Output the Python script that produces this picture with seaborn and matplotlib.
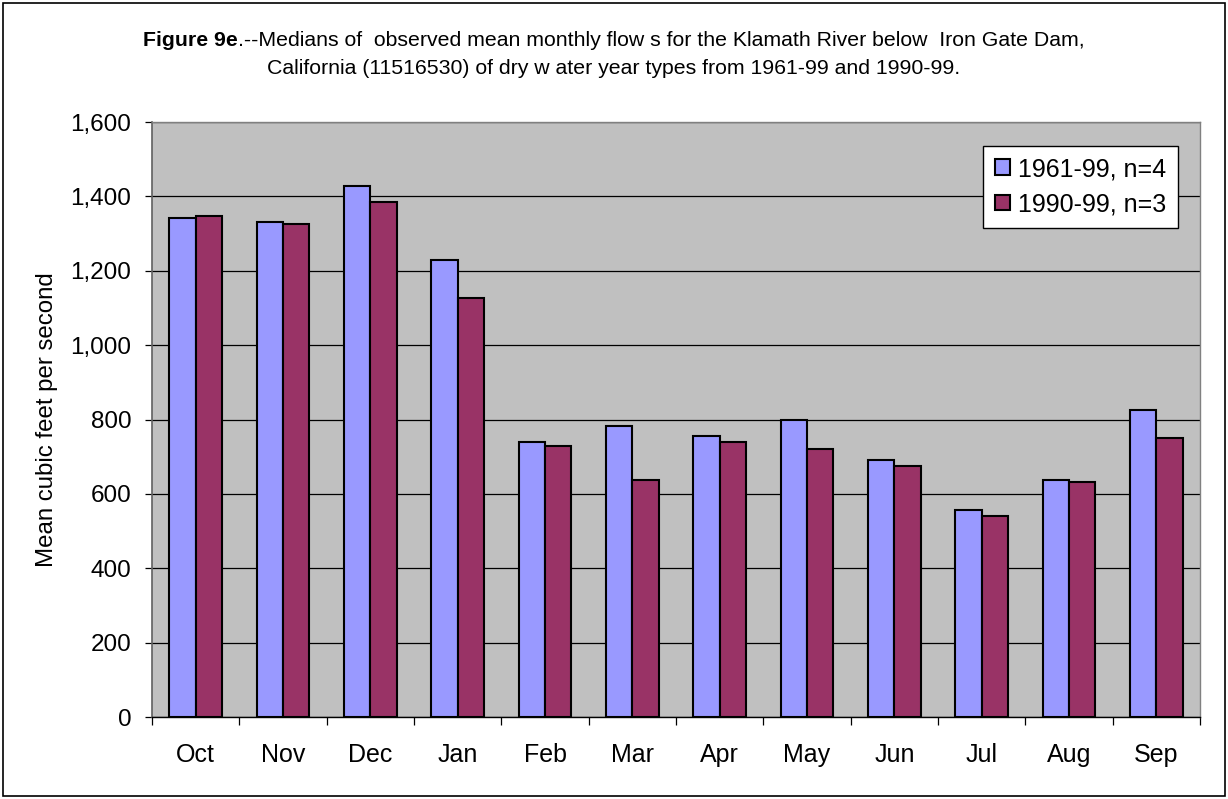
import matplotlib
matplotlib.use("Agg")
import matplotlib.pyplot as plt
import seaborn as sns
import pandas as pd
from matplotlib.patches import Rectangle
from matplotlib.ticker import FuncFormatter, FixedLocator

months = ["Oct", "Nov", "Dec", "Jan", "Feb", "Mar", "Apr", "May", "Jun", "Jul", "Aug", "Sep"]
series_names = ["1961-99, n=4", "1990-99, n=3"]
flows_1961_99 = [1341, 1331, 1429, 1229, 739, 782, 755, 798, 690, 557, 636, 825]
flows_1990_99 = [1346, 1326, 1385, 1127, 728, 636, 739, 722, 675, 540, 632, 749]
colors = ["#9999FF", "#993366"]

df = pd.DataFrame({
    "month": months * 2,
    "period": [series_names[0]] * len(months) + [series_names[1]] * len(months),
    "flow": flows_1961_99 + flows_1990_99,
})

sns.set_theme(style="white")
plt.rcParams["font.family"] = ["Liberation Sans", "DejaVu Sans"]
plt.rcParams["text.color"] = "black"

fig = plt.figure(figsize=(12.28, 7.99), dpi=100)
W, H = 1228, 799
ax = fig.add_axes([152 / W, 1 - 717 / H, (1200 - 152) / W, (717 - 122) / H])
ax.set_facecolor("#C0C0C0")

sns.barplot(data=df, x="month", y="flow", hue="period", order=months,
            hue_order=series_names, palette=colors, width=0.6, gap=0,
            edgecolor="black", linewidth=1.5, saturation=1, ax=ax)

ax.set_ylim(0, 1600)
ax.set_xlim(-0.5, len(months) - 0.5)
ax.set_yticks(range(0, 1601, 200))
ax.yaxis.set_major_formatter(FuncFormatter(lambda v, p: f"{int(v):,}"))
ax.grid(axis="y", color="black", linewidth=0.9)
ax.set_axisbelow(True)

# category boundary ticks below, labels centred on categories
ax.xaxis.set_major_locator(FixedLocator([i - 0.5 for i in range(len(months) + 1)]))
ax.xaxis.set_major_formatter(FuncFormatter(lambda v, p: ""))
ax.set_xticks(range(len(months)), labels=months, minor=True)
ax.tick_params(axis="x", which="major", direction="out", length=6, width=0.9, color="black", bottom=True)
ax.tick_params(axis="x", which="minor", length=0, pad=19, labelsize=18, labelcolor="black")
ax.tick_params(axis="y", direction="out", length=5, width=0.9, color="black", left=True,
               pad=10, labelsize=17.5, labelcolor="black")

ax.set_xlabel("")
ax.set_ylabel("Mean cubic feet per second", fontsize=17.3, color="black", labelpad=9)

for side in ["top", "right"]:
    ax.spines[side].set_color("#808080")
    ax.spines[side].set_linewidth(1.0)
ax.spines["left"].set_color("#606060")
ax.spines["left"].set_linewidth(1.2)
ax.spines["bottom"].set_color("black")
ax.spines["bottom"].set_linewidth(1.0)

handles, labels = ax.get_legend_handles_labels()
leg = ax.legend(handles, labels, loc="upper right", bbox_to_anchor=(0.979, 0.96),
                borderaxespad=0, frameon=True, fancybox=False, fontsize=18,
                handlelength=0.6, handleheight=0.6, handletextpad=0.35,
                labelspacing=0.45, borderpad=0.45, edgecolor="black", framealpha=1)
leg.get_frame().set_linewidth(1.0)
leg.get_frame().set_facecolor("white")
for t in leg.get_texts():
    t.set_color("black")

# Title: bold figure number followed by regular caption text, centred
bold_part = "Figure 9e"
rest_part = ".--Medians of  observed mean monthly flow s for the Klamath River below  Iron Gate Dam,"
line2 = "California (11516530) of dry w ater year types from 1961-99 and 1990-99."
tsize = 15.3
renderer = fig.canvas.get_renderer()
t_bold = fig.text(0, 1 - 40 / H, bold_part, fontsize=tsize, fontweight="bold", ha="left",
                  va="center", color="black")
t_rest = fig.text(0, 1 - 40 / H, rest_part, fontsize=tsize, ha="left", va="center", color="black")
wb = t_bold.get_window_extent(renderer).width
wr = t_rest.get_window_extent(renderer).width
x0 = (W / 2 - (wb + wr) / 2)
t_bold.set_x(x0 / W)
t_rest.set_x((x0 + wb) / W)
fig.text(0.5, 1 - 68 / H, line2, fontsize=tsize, ha="center", va="center", color="black")

# outer chart border
fig.patches.append(Rectangle((3 / W, 3 / H), 1 - 6 / W, 1 - 6 / H, transform=fig.transFigure,
                             fill=False, edgecolor="black", linewidth=1.2))

fig.savefig("out.png", dpi=100, facecolor="white")
